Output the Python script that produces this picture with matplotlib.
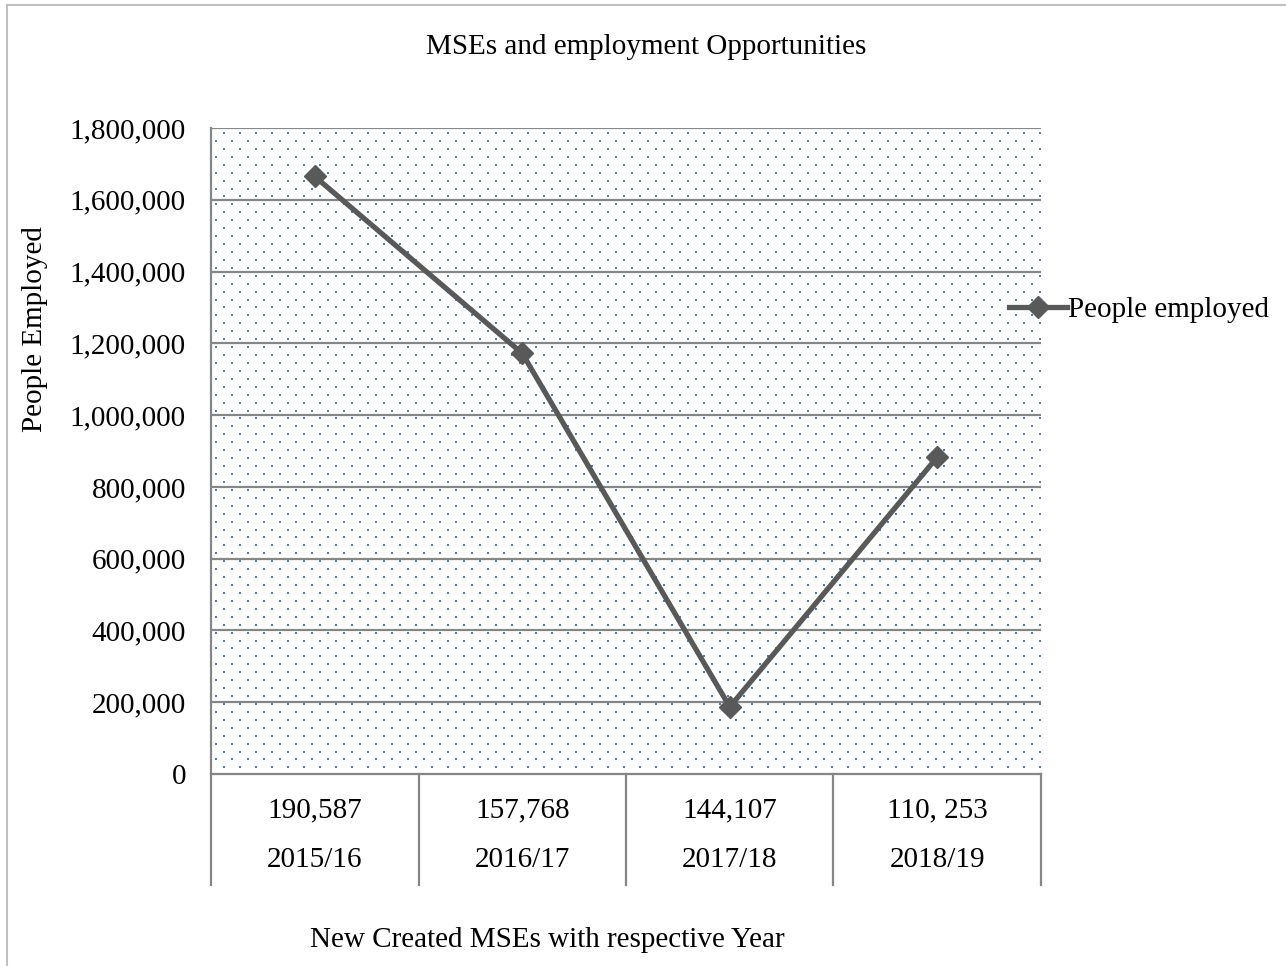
import matplotlib.pyplot as plt
import matplotlib.transforms as mtransforms
import numpy as np

plt.rcParams["font.family"] = ["Liberation Serif", "DejaVu Serif"]

years = ["2015/16", "2016/17", "2017/18", "2018/19"]
new_mses = ["190,587", "157,768", "144,107", "110, 253"]
people_employed = [1665000, 1172000, 187000, 883000]
y_ticks = [0, 200000, 400000, 600000, 800000, 1000000, 1200000, 1400000, 1600000, 1800000]

W, H = 1286, 966
fig = plt.figure(figsize=(W / 100, H / 100), dpi=100)

# plot area in pixel terms
left, right, top, bottom = 211, 1041, 128, 774
ax = fig.add_axes([left / W, 1 - bottom / H, (right - left) / W, (bottom - top) / H])

grid_col = "#868686"
line_col = "#595959"
fs = 21

# dotted fill of the plot area (staggered lattice of small blue dots)
dots_x, dots_y = [], []
for i, py in enumerate(np.arange(top + 5, bottom, 7.93)):
    start = left + (13 if i % 2 == 0 else 5)
    for px in np.arange(start, right, 16):
        dots_x.append((px - left) / (right - left))
        dots_y.append((bottom - py) / (bottom - top))
ax.scatter(dots_x, dots_y, s=2.2, marker="s", color="#4a7ebb", linewidths=0,
           transform=ax.transAxes, zorder=0)

x = np.arange(len(years))
ax.plot(x, people_employed, color=line_col, lw=3.8, marker="D", markersize=11,
        label="People employed", zorder=5)

ax.set_xlim(-0.5, len(years) - 0.5)
ax.set_ylim(0, 1800000)
ax.set_yticks(y_ticks)
ax.set_yticklabels([f"{v:,}" for v in y_ticks])
ax.tick_params(axis="y", length=0, pad=18, labelsize=fs)
ax.set_xticks([])
for yv in y_ticks[1:]:
    ax.axhline(yv, color=grid_col, lw=1.6, zorder=1)

for side in ["top", "right"]:
    ax.spines[side].set_visible(False)
ax.spines["left"].set_color(grid_col)
ax.spines["left"].set_linewidth(1.6)
ax.spines["bottom"].set_color(grid_col)
ax.spines["bottom"].set_linewidth(1.6)

# two-level category axis below the plot
trans = mtransforms.blended_transform_factory(ax.transData, ax.transAxes)
depth = (885 - bottom) / (bottom - top)
for i in range(len(years) + 1):
    ax.plot([i - 0.5, i - 0.5], [0, -depth], color=grid_col, lw=1.6,
            transform=trans, clip_on=False)
for i in range(len(years)):
    ax.text(i, -(810 - bottom) / (bottom - top), new_mses[i], transform=trans,
            ha="center", va="center", fontsize=fs)
    ax.text(i, -(860 - bottom) / (bottom - top), years[i], transform=trans,
            ha="center", va="center", fontsize=fs)

fig.text(646 / W, 1 - 47 / H, "MSEs and employment Opportunities",
         ha="center", va="center", fontsize=fs)
fig.text(547 / W, 1 - 940 / H, "New Created MSEs with respective Year",
         ha="center", va="center", fontsize=fs)
fig.text(35 / W, 1 - 329 / H, "People Employed", rotation=90,
         ha="center", va="center", fontsize=fs)

fig.legend(loc="center left", bbox_to_anchor=(997 / W, 1 - 310 / H),
           frameon=False, fontsize=fs, handlelength=2.0, handletextpad=0.05,
           borderaxespad=0)

# outer chart frame (top and left edges)
fig.add_artist(plt.Line2D([7 / W, 1], [1 - 5 / H, 1 - 5 / H], color="#bfbfbf", lw=1.5))
fig.add_artist(plt.Line2D([7 / W, 7 / W], [0, 1 - 5 / H], color="#bfbfbf", lw=1.5))

fig.savefig("out.png", dpi=100)
